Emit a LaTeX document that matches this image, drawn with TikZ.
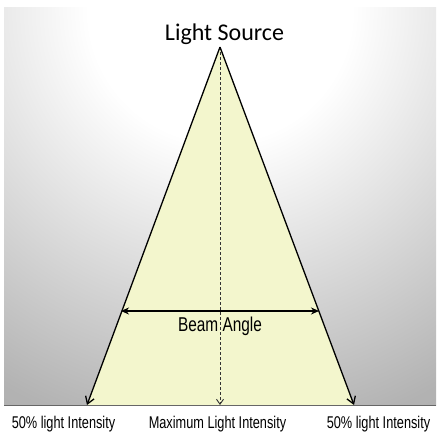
\documentclass[tikz,border=0pt]{standalone}
\usepackage{fontspec}
\setmainfont{Liberation Sans}
\newfontfamily\calib{Carlito}
\usetikzlibrary{arrows.meta}
\definecolor{beamfill}{HTML}{F3F6CD}
\pgfdeclareradialshading{bgshade}{\pgfpoint{0bp}{0bp}}{color(0bp)=(white); color(7bp)=(white); color(23bp)=(black!30); color(50bp)=(black!48)}
\tikzset{
  edgearrow/.style={line width=1.3pt, black, -{Straight Barb[length=7pt,width=9pt]}},
  centerline/.style={line width=0.9pt, black!80, dash pattern=on 3pt off 2pt, -{Straight Barb[length=5pt,width=7pt]}},
  beamarrow/.style={line width=1.5pt, black, {Stealth[length=8pt,width=7pt]}-{Stealth[length=8pt,width=7pt]}},
  lowlabel/.style={anchor=base, inner sep=0pt, font=\fontsize{17}{20}\selectfont},
}
\newcommand{\narrow}[1]{\scalebox{0.75}[1]{#1}}
\begin{document}
\begin{tikzpicture}[x=1pt,y=-1pt]
\useasboundingbox[fill=white] (0,0) rectangle (440,440);
\coordinate (gtl) at (4,7);
\coordinate (gbr) at (436,405);
\coordinate (gbl) at (4,405);
\begin{scope}
  \clip (gtl) rectangle (gbr);
  \shade[shading=bgshade] (220,10) circle (470pt);
\end{scope}
\coordinate (apex) at (220,47);
\coordinate (bl) at (87,405);
\coordinate (br) at (354,405);
\coordinate (bal) at (121,311);
\coordinate (bar) at (319,311);
\fill[beamfill] (apex) -- (bl) -- (br) -- cycle;
\draw[black!60, line width=1pt] (gbl) -- (gbr);
\draw[centerline] (apex) -- (apex |- bl);
\draw[edgearrow] (apex) -- (bl);
\draw[edgearrow] (apex) -- (br);
\draw[beamarrow] (bal) -- (bar);
\node[anchor=base, inner sep=0pt, font=\calib\fontsize{24}{28}\selectfont] (ls) at (224.5,40.5) {Light Source};
\node[anchor=base, inner sep=0pt, font=\fontsize{20}{24}\selectfont] (ba) at (220,331.5) {\scalebox{0.77}[1]{Beam Angle}};
\node[lowlabel] (l1) at (63.5,428) {\narrow{50\% light Intensity}};
\node[lowlabel] (l2) at (217.5,428) {\narrow{Maximum Light Intensity}};
\node[lowlabel] (l3) at (378.5,428) {\narrow{50\% light Intensity}};
\end{tikzpicture}
\end{document}
